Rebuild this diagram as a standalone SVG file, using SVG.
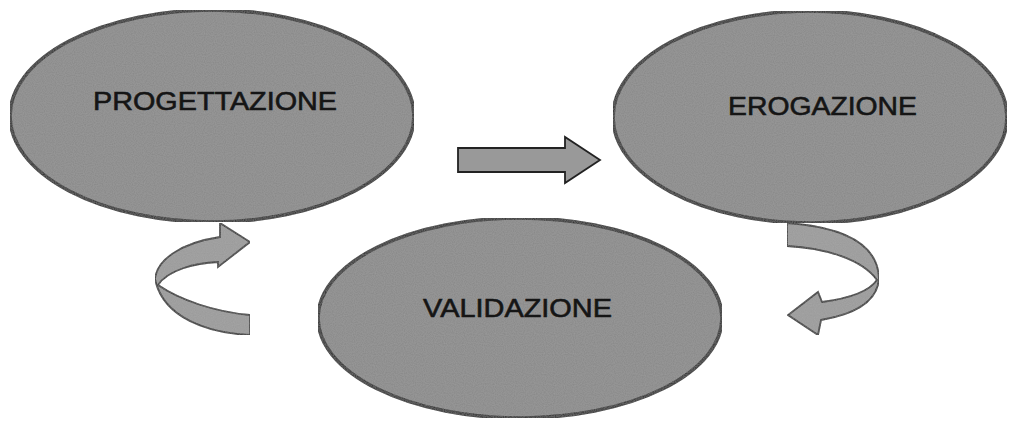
<svg xmlns="http://www.w3.org/2000/svg" width="1014" height="429" viewBox="0 0 1014 429">
<defs>
<filter id="grain" x="0" y="0" width="100%" height="100%">
<feTurbulence type="fractalNoise" baseFrequency="0.9" numOctaves="1" seed="3" result="n"/>
<feColorMatrix in="n" type="matrix" values="0 0 0 0 0.5  0 0 0 0 0.5  0 0 0 0 0.5  0 0 0 0.35 0" result="g"/>
<feComposite in="g" in2="SourceGraphic" operator="in" result="gi"/>
<feMerge><feMergeNode in="SourceGraphic"/><feMergeNode in="gi"/></feMerge>
</filter>
</defs>
<style>
.node{fill:#868686;stroke:#111;stroke-width:3.5}
.lbl{font-family:"Liberation Sans",Arial,sans-serif;font-weight:normal;font-size:26px;fill:#151515;stroke:#151515;stroke-width:0.6;text-anchor:middle}
.arr{fill:#999999;stroke:#222;stroke-width:1.8;stroke-linejoin:miter}
</style>
<rect width="1014" height="429" fill="#ffffff"/>
<g id="connectors">
<path class="arr" d="M458,148 L565,148 L565,137 L600,160 L565,183 L565,172 L458,172 Z"/>
<path class="arr" filter="url(#grain)" d="M250,335 C208,333 163,318 155,279 C157,260 180,243 220,237 L220,223 L250,242 L218,267 L218,262 C195,263 168,270 158,285 C180,300 215,312 250,315 Z"/>
<path class="arr" filter="url(#grain)" d="M787,223 C830,226 878,238 879,279 C877,304 850,315 821,320 L818,335 L788,315 L818,292 L822,302 C845,299 868,293 877,280 C862,259 825,248 787,246 Z"/>
</g>
<g id="progettazione">
<ellipse class="node" filter="url(#grain)" cx="212" cy="116" rx="202" ry="106"/>
<text class="lbl" x="215" y="110" textLength="244" lengthAdjust="spacingAndGlyphs">PROGETTAZIONE</text>
</g>
<g id="erogazione">
<ellipse class="node" filter="url(#grain)" cx="810" cy="117" rx="197" ry="106"/>
<text class="lbl" x="822.5" y="115" textLength="189" lengthAdjust="spacingAndGlyphs">EROGAZIONE</text>
</g>
<g id="validazione">
<ellipse class="node" filter="url(#grain)" cx="520" cy="318" rx="202" ry="100"/>
<text class="lbl" x="517.5" y="317" textLength="189" lengthAdjust="spacingAndGlyphs">VALIDAZIONE</text>
</g>
</svg>
